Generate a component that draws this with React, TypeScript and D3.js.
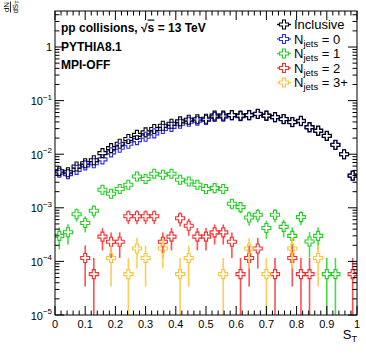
import React from "react";
import * as d3 from "d3";

// ---- data ----
const nBins = 35;
const binCenters = d3.range(nBins).map((i) => (i + 0.5) / nBins);
const unitWeight = 5.8e-5; // value of a single entry (for Poisson error bars)

const inclusive = [4.8e-3, 4.6e-3, 5.9e-3, 6.8e-3, 7.7e-3, 1.05e-2, 1.3e-2, 1.57e-2, 1.92e-2, 2.3e-2, 2.55e-2, 2.95e-2, 3.4e-2, 3.7e-2, 4.1e-2, 4.4e-2, 4.5e-2, 4.6e-2, 5.25e-2, 5.25e-2, 5.4e-2, 5.25e-2, 5.4e-2, 5.7e-2, 5.25e-2, 4.95e-2, 4.55e-2, 4.0e-2, 4.2e-2, 3.2e-2, 2.75e-2, 2.2e-2, 1.5e-2, 1.0e-2, 4.0e-3];
const njets0 = [4.5e-3, 4.25e-3, 5.1e-3, 6.2e-3, 6.8e-3, 8.0e-3, 1.08e-2, 1.32e-2, 1.57e-2, 1.83e-2, 2.12e-2, 2.45e-2, 2.95e-2, 3.24e-2, 3.7e-2, 4.03e-2, 4.2e-2, 4.35e-2, 4.98e-2, 4.99e-2, 5.26e-2, 5.14e-2, 5.3e-2, 5.61e-2, 5.2e-2, 4.87e-2, 4.5e-2, 3.94e-2, 4.13e-2, 3.17e-2, 2.71e-2, 2.19e-2, 1.49e-2, 1.0e-2, 3.94e-3];
const njets1 = [3.0e-4, 3.5e-4, 7.6e-4, 5.2e-4, 8.8e-4, 2.17e-3, 1.83e-3, 2.24e-3, 2.69e-3, 3.85e-3, 3.44e-3, 4.32e-3, 4.14e-3, 4.32e-3, 3.33e-3, 3.1e-3, 2.69e-3, 2.24e-3, 2.33e-3, 2.24e-3, 1.19e-3, 1.03e-3, 6.6e-4, 7.4e-4, 4.2e-4, 7.4e-4, 4.4e-4, 3.0e-4, 6.7e-4, 2.35e-4, 3.0e-4, 5.8e-5, 5.8e-5, 0, 0];
const njets2 = [0, 0, 0, 1.16e-4, 5.8e-5, 2.9e-4, 2.32e-4, 2.32e-4, 6.96e-4, 6.96e-4, 6.96e-4, 6.96e-4, 2.32e-4, 2.9e-4, 6.38e-4, 4.64e-4, 2.9e-4, 2.9e-4, 3.48e-4, 3.48e-4, 2.32e-4, 5.8e-5, 1.16e-4, 1.74e-4, 0, 5.8e-5, 0, 1.16e-4, 5.8e-5, 5.8e-5, 0, 0, 0, 0, 5.8e-5];
const njets3 = [0, 0, 0, 0, 0, 0, 1.16e-4, 0, 5.8e-5, 1.74e-4, 1.16e-4, 0, 1.74e-4, 0, 5.8e-5, 1.16e-4, 0, 0, 0, 5.8e-5, 0, 0, 1.74e-4, 0, 5.8e-5, 0, 0, 1.74e-4, 0, 0, 1.16e-4, 0, 0, 0, 0];

const xTicks = [0, 0.1, 0.2, 0.3, 0.4, 0.5, 0.6, 0.7, 0.8, 0.9, 1];
const xTickLabels = ["0", "0.1", "0.2", "0.3", "0.4", "0.5", "0.6", "0.7", "0.8", "0.9", "1"];
const yDecades = [1e-5, 1e-4, 1e-3, 1e-2, 1e-1, 1];
const yDecadeExp = ["\u22125", "\u22124", "\u22123", "\u22122", "\u22121", ""];

const seriesNames = ["Inclusive", "0", "1", "2", "3+"];
const seriesColors = ["#000000", "#2b2bff", "#1fd01f", "#ff2a2a", "#ffc433"];
const barColors = ["#000000", "#5050ff", "#44dd44", "#ff5050", "#ffcc55"];

// ---- layout ----
const W = 366, H = 355;
const L = 55, R = 357, T = 11, B = 315;
const font = "'Liberation Sans', Arial, Helvetica, sans-serif";

export default function App() {
  const x = d3.scaleLinear().domain([0, 1]).range([L, R]);
  const y = d3.scaleLog().domain([1e-5, 4.7]).range([B, T]);
  const allSeries = [inclusive, njets0, njets1, njets2, njets3];
  const drawOrder = [1, 0, 2, 3, 4];
  const h = 4.5, a = 1.5;
  const crossPath = `M${-a},${-h}L${a},${-h}L${a},${-a}L${h},${-a}L${h},${a}L${a},${a}L${a},${h}L${-a},${h}L${-a},${a}L${-h},${a}L${-h},${-a}L${-a},${-a}Z`;

  const xMinor = d3.range(0, 51).map((i) => i * 0.02).filter((v, i) => i % 5 !== 0);
  const yMinor: number[] = [];
  for (let k = -5; k <= 0; k++) for (let m = 2; m <= 9; m++) {
    const v = m * Math.pow(10, k);
    if (v <= 4.7) yMinor.push(v);
  }

  return (
    <svg width={W} height={H} style={{ display: "block", position: "absolute", left: 0, top: 0 }} fontFamily={font}>
      <rect x={0} y={0} width={W} height={H} fill="#fff" />
      <defs>
        <clipPath id="frame"><rect x={L} y={T} width={R - L} height={B - T} /></clipPath>
      </defs>

      {/* data */}
      <g clipPath="url(#frame)">
        {drawOrder.map((si) => {
          const vals = allSeries[si];
          return (
            <g key={si}>
              {vals.map((v, i) => {
                if (!(v > 0)) return null;
                const err = Math.sqrt(v * unitWeight);
                const cx = x(binCenters[i]);
                const cy = y(v);
                const yHi = y(v + err);
                const lo = v - err;
                const yLo = lo > 1e-7 ? y(lo) : B + 5;
                return (
                  <g key={i}>
                    {yHi < cy - h && <line x1={cx} x2={cx} y1={cy - h} y2={yHi} stroke={barColors[si]} strokeWidth={1.6} />}
                    {yLo > cy + h && <line x1={cx} x2={cx} y1={cy + h} y2={yLo} stroke={barColors[si]} strokeWidth={1.6} />}
                    <path d={crossPath} transform={`translate(${cx},${cy})`} fill="none" stroke={seriesColors[si]} strokeWidth={1.1} />
                  </g>
                );
              })}
            </g>
          );
        })}
      </g>

      {/* frame */}
      <rect x={L} y={T} width={R - L} height={B - T} fill="none" stroke="#000" strokeWidth={1} />

      {/* x ticks */}
      {xTicks.map((t) => (
        <g key={"xt" + t}>
          <line x1={x(t)} x2={x(t)} y1={B} y2={B - 9} stroke="#000" />
          <line x1={x(t)} x2={x(t)} y1={T} y2={T + 9} stroke="#000" />
        </g>
      ))}
      {xMinor.map((t) => (
        <g key={"xm" + t}>
          <line x1={x(t)} x2={x(t)} y1={B} y2={B - 4.5} stroke="#000" />
          <line x1={x(t)} x2={x(t)} y1={T} y2={T + 4.5} stroke="#000" />
        </g>
      ))}
      {xTicks.map((t, i) => (
        <text key={"xl" + t} x={x(t)} y={328} fontSize={11} textAnchor="middle">{xTickLabels[i]}</text>
      ))}

      {/* y ticks */}
      {yDecades.map((t) => (
        <g key={"yt" + t}>
          <line x1={L} x2={L + 9} y1={y(t)} y2={y(t)} stroke="#000" />
          <line x1={R} x2={R - 9} y1={y(t)} y2={y(t)} stroke="#000" />
        </g>
      ))}
      {yMinor.map((t) => (
        <g key={"ym" + t}>
          <line x1={L} x2={L + 4.5} y1={y(t)} y2={y(t)} stroke="#000" />
          <line x1={R} x2={R - 4.5} y1={y(t)} y2={y(t)} stroke="#000" />
        </g>
      ))}
      {yDecades.map((t, i) =>
        yDecadeExp[i] === "" ? (
          <text key={"yl" + t} x={52} y={y(t) + 4} fontSize={11} textAnchor="end">1</text>
        ) : (
          <text key={"yl" + t} x={52} y={y(t) + 4.5} fontSize={11} textAnchor="end">
            10<tspan fontSize={8} dy={-5.5}>{yDecadeExp[i]}</tspan>
          </text>
        )
      )}

      {/* axis titles */}
      <g transform="translate(10.5,7) rotate(-90)" fontSize={8}>
        <text x={0} y={-1.8} textAnchor="middle">dN</text>
        <line x1={-5.5} x2={5.5} y1={0} y2={0} stroke="#000" strokeWidth={0.8} />
        <text x={0} y={7} textAnchor="middle">dS<tspan fontSize={5.5} dy={1.5}>T</tspan></text>
      </g>
      <text x={R} y={339} fontSize={13} textAnchor="end">S<tspan fontSize={9} dy={3}>T</tspan></text>

      {/* labels */}
      <g fontSize={12} fontWeight="bold">
        <text x={61} y={31.5}>pp collisions, <tspan>{"\u221A"}</tspan><tspan style={{ textDecoration: "overline" }}>s</tspan> = 13 TeV</text>
        <text x={61} y={50.5}>PYTHIA8.1</text>
        <text x={61} y={69}>MPI-OFF</text>
      </g>

      {/* legend */}
      {seriesNames.map((name, i) => {
        const ly = 24.5 + i * 14.5;
        return (
          <g key={"lg" + i}>
            <line x1={277} x2={291} y1={ly} y2={ly} stroke={barColors[i]} strokeWidth={1.4} />
            <path d={crossPath} transform={`translate(284,${ly})`} fill="#fff" stroke={seriesColors[i]} strokeWidth={1.1} />
            {i === 0 ? (
              <text x={294} y={ly + 4.5} fontSize={13}>{name}</text>
            ) : (
              <text x={294} y={ly + 4.5} fontSize={13}>
                N<tspan fontSize={9.5} dy={3}>jets</tspan><tspan dy={-3}>{" = " + name}</tspan>
              </text>
            )}
          </g>
        );
      })}
    </svg>
  );
}
